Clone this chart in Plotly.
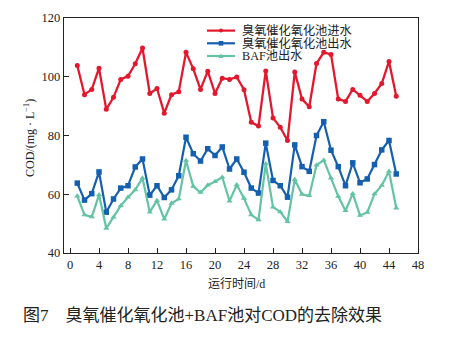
import plotly.graph_objects as go

days = list(range(1, 46))
ozone_in = [103.8, 93.9, 95.7, 102.9, 88.9, 93.0, 99.1, 100.2, 104.4, 109.8,
            94.3, 96.0, 87.6, 93.9, 94.9, 108.3, 102.7, 95.7, 101.9, 94.3,
            99.5, 99.1, 99.9, 95.6, 84.5, 83.2, 102.0, 86.0, 82.8, 78.3,
            101.6, 92.4, 89.8, 104.5, 108.3, 107.6, 92.4, 91.6, 95.7, 93.7,
            91.6, 94.3, 97.7, 105.2, 93.4]
ozone_out = [63.8, 58.0, 60.2, 67.6, 53.9, 58.4, 62.1, 62.9, 69.3, 72.0,
             59.7, 62.9, 58.9, 61.5, 66.3, 79.4, 73.8, 71.3, 75.5, 73.2,
             76.1, 68.6, 72.0, 67.5, 62.1, 60.4, 77.4, 64.7, 62.9, 59.0,
             76.8, 69.4, 67.8, 80.0, 84.7, 75.0, 69.4, 62.9, 70.7, 63.9,
             65.2, 70.1, 75.1, 78.3, 66.9]
baf_out = [59.4, 53.0, 52.3, 59.8, 48.4, 52.2, 56.1, 59.0, 61.5, 65.5,
           53.9, 57.9, 51.5, 56.9, 58.4, 71.5, 62.7, 60.6, 63.1, 64.3,
           65.8, 57.7, 63.2, 58.6, 53.0, 51.3, 70.3, 55.6, 54.0, 50.7,
           65.0, 60.0, 59.5, 69.9, 71.6, 65.5, 59.3, 54.4, 60.2, 52.8,
           53.8, 60.1, 63.0, 67.8, 55.3]
series_names = ["臭氧催化氧化池进水", "臭氧催化氧化池出水", "BAF池出水"]
x_ticks = list(range(0, 49, 4))
y_ticks = [40, 60, 80, 100, 120]

RED = "#e3182d"
BLUE = "#145fb0"
GREEN = "#63c3a4"
SERIF = "Liberation Serif, 'Noto Sans CJK SC', serif"

W, H = 449, 337
L, R, T, B = 64, 418, 18, 253

fig = go.Figure()
fig.add_trace(go.Scatter(x=days, y=ozone_in, mode="lines+markers", name=series_names[0],
                         line=dict(color=RED, width=2.3), marker=dict(symbol="circle", size=5, color=RED)))
fig.add_trace(go.Scatter(x=days, y=ozone_out, mode="lines+markers", name=series_names[1],
                         line=dict(color=BLUE, width=2.2), marker=dict(symbol="square", size=5.5, color=BLUE)))
fig.add_trace(go.Scatter(x=days, y=baf_out, mode="lines+markers", name=series_names[2],
                         line=dict(color=GREEN, width=2.2), marker=dict(symbol="triangle-up", size=5.5, color=GREEN)))


def px2x(px):
    return (px - L) / (R - L)


def px2y(py):
    return (B - py) / (B - T)


shapes = []
annotations = []
colors = [RED, BLUE, GREEN]
row_y = [30.6, 43.3, 56.0]
for i, (name, c) in enumerate(zip(series_names, colors)):
    yy = row_y[i]
    shapes.append(dict(type="line", xref="paper", yref="paper", x0=px2x(207), x1=px2x(235),
                       y0=px2y(yy), y1=px2y(yy), line=dict(color=c, width=2.2)))
    cx = 221
    if i == 0:
        shapes.append(dict(type="circle", xref="paper", yref="paper", x0=px2x(cx - 2), x1=px2x(cx + 2),
                           y0=px2y(yy + 2), y1=px2y(yy - 2), fillcolor=c, line=dict(width=0)))
    elif i == 1:
        shapes.append(dict(type="rect", xref="paper", yref="paper", x0=px2x(cx - 2.3), x1=px2x(cx + 2.3),
                           y0=px2y(yy + 2.3), y1=px2y(yy - 2.3), fillcolor=c, line=dict(width=0)))
    else:
        path = "M {} {} L {} {} L {} {} Z".format(px2x(cx - 2.5), px2y(yy + 2), px2x(cx + 2.5), px2y(yy + 2),
                                                px2x(cx), px2y(yy - 2.5))
        shapes.append(dict(type="path", xref="paper", yref="paper", path=path, fillcolor=c, line=dict(width=0)))
    annotations.append(dict(text=name, xref="paper", yref="paper", x=px2x(240), y=px2y(yy),
                            xanchor="left", yanchor="middle", showarrow=False,
                            font=dict(family=SERIF, size=12.2, color="#222")))

annotations.append(dict(text="运行时间/d", xref="paper", yref="paper", x=px2x(236), y=px2y(284),
                        xanchor="center", yanchor="middle", showarrow=False,
                        font=dict(family=SERIF, size=12, color="#222")))
annotations.append(dict(text="COD/(mg · L<sup>−1</sup>)", xref="paper", yref="paper", x=px2x(29), y=px2y(138),
                        xanchor="center", yanchor="middle", showarrow=False, textangle=-90,
                        font=dict(family=SERIF, size=12, color="#222")))
annotations.append(dict(text="图7　臭氧催化氧化池+BAF池对COD的去除效果", xref="paper", yref="paper",
                        x=px2x(21), y=px2y(315), xanchor="left", yanchor="middle", showarrow=False,
                        font=dict(family=SERIF, size=17, color="#222")))

axis_common = dict(showgrid=False, zeroline=False, showline=True, linecolor="#222", linewidth=1.3,
                   mirror=True, ticks="inside", ticklen=5, tickwidth=1.2, tickcolor="#222",
                   tickfont=dict(family=SERIF, size=12.5, color="#222"))

fig.update_layout(
    width=W, height=H,
    margin=dict(l=L, r=W - R, t=T, b=H - B, pad=0),
    paper_bgcolor="white", plot_bgcolor="white",
    showlegend=False,
    xaxis=dict(range=[-0.83, 48], tickmode="array", tickvals=x_ticks, **axis_common),
    yaxis=dict(range=[40, 120], tickmode="array", tickvals=y_ticks, **axis_common),
    shapes=shapes,
    annotations=annotations,
)

fig.write_html("out.html")
